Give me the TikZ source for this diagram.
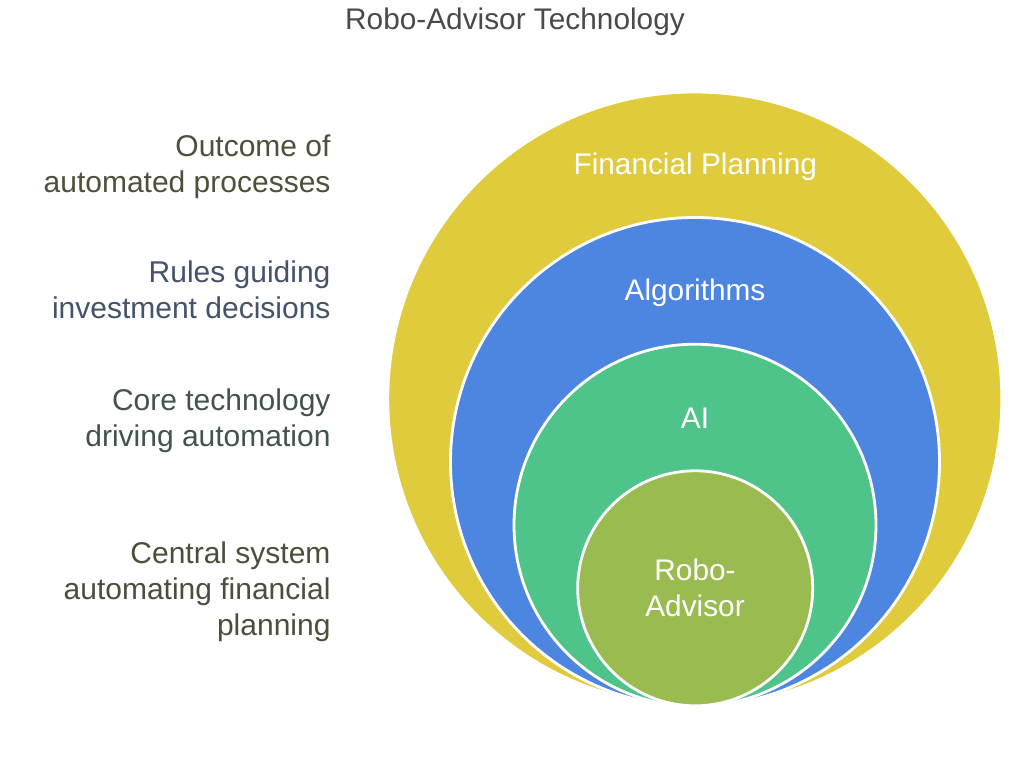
\documentclass[tikz,border=0pt]{standalone}
\usepackage{fontspec}
\setmainfont{Liberation Sans}
\definecolor{cyellow}{HTML}{E0CB3D}
\definecolor{cblue}{HTML}{4C86E0}
\definecolor{cgreen}{HTML}{4EC38A}
\definecolor{colive}{HTML}{9ABB4F}
\definecolor{tyellow}{HTML}{4F4F3C}
\definecolor{tblue}{HTML}{45526A}
\definecolor{tgreen}{HTML}{44524F}
\definecolor{tolive}{HTML}{4A4F3C}
\definecolor{ttitle}{HTML}{4A4A4A}
\tikzset{
 ring/.style={circle,draw=white,line width=2.8pt,minimum size=#1,inner sep=0pt},
 lbl/.style={text=white,font=\fontsize{29.8pt}{36pt}\selectfont,align=center,anchor=center,inner sep=0pt},
 side/.style={font=\fontsize{30pt}{36pt}\selectfont,align=right,anchor=east,inner sep=0pt}
}
\begin{document}
\begin{tikzpicture}[x=1pt,y=-1pt]
\useasboundingbox (0,0) rectangle (1024,767);
\fill[white] (0,0) rectangle (1024,767);
\node[ring=614pt,fill=cyellow] (c1) at (694.8,399) {};
\node[ring=489pt,fill=cblue] (c2) at (695,462) {};
\node[ring=362pt,fill=cgreen] (c3) at (695,525.2) {};
\node[ring=235pt,fill=colive] (c4) at (695.2,588.3) {};
\node[lbl] (l1) at (695.3,167) {Financial Planning};
\node[lbl] (l2) at (695,293) {Algorithms};
\node[lbl] (l3) at (695,418) {AI};
\node[lbl] (l4) at (695,588) {Robo-\\Advisor};
\node[side,text=tyellow] (s1) at (330.7,166.5) {Outcome of\\automated processes};
\node[side,text=tblue] (s2) at (330.7,289.5) {Rules guiding\\investment decisions};
\node[side,text=tgreen] (s3) at (330.7,420.5) {Core technology\\driving automation};
\node[side,text=tolive] (s4) at (330.7,592) {Central system\\automating financial\\planning};
\node[font=\fontsize{29.8pt}{36pt}\selectfont,text=ttitle,inner sep=0pt] (t) at (515,22) {Robo-Advisor Technology};
\end{tikzpicture}
\end{document}
